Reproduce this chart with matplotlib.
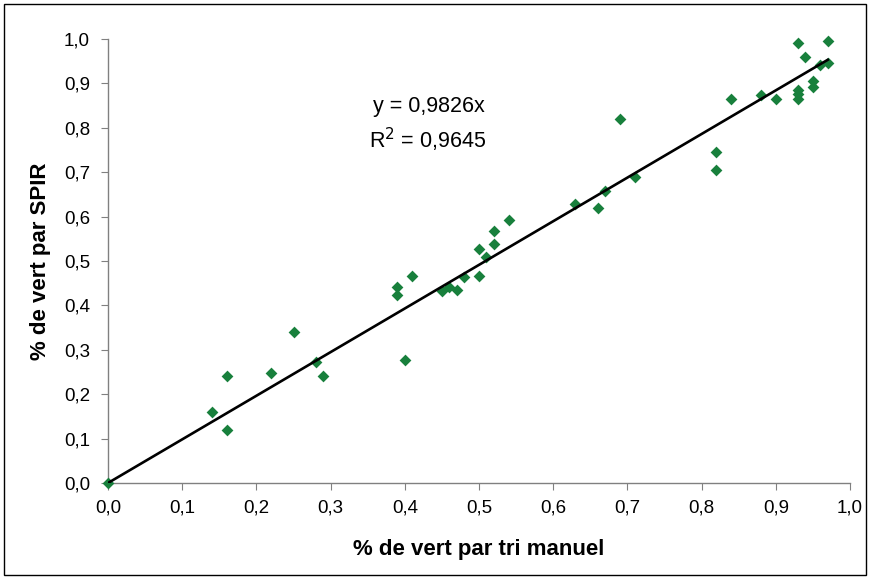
import matplotlib.pyplot as plt
from matplotlib.patches import Rectangle
from matplotlib.ticker import FuncFormatter

plt.rcParams['font.family'] = ['Liberation Sans', 'DejaVu Sans']

# % vert par tri manuel (x) vs % vert par SPIR (y)
manuel = [0.00, 0.14, 0.16, 0.16, 0.22, 0.25, 0.28, 0.29, 0.39, 0.39,
          0.40, 0.41, 0.45, 0.46, 0.47, 0.48, 0.50, 0.50, 0.51, 0.52,
          0.52, 0.54, 0.63, 0.66, 0.67, 0.69, 0.71, 0.82, 0.82, 0.84,
          0.88, 0.90, 0.93, 0.93, 0.93, 0.93, 0.94, 0.95, 0.95, 0.96,
          0.97, 0.97]
spir = [0.000, 0.161, 0.240, 0.119, 0.248, 0.341, 0.273, 0.240, 0.442, 0.424,
        0.276, 0.467, 0.433, 0.441, 0.435, 0.463, 0.467, 0.526, 0.510, 0.538,
        0.568, 0.593, 0.629, 0.619, 0.658, 0.820, 0.689, 0.745, 0.706, 0.864,
        0.875, 0.864, 0.885, 0.876, 0.865, 0.990, 0.959, 0.905, 0.893, 0.942,
        0.947, 0.996]
pente = 0.9826
r2 = 0.9645

fig = plt.figure(figsize=(8.71, 5.79), dpi=100)
fig.patches.append(Rectangle((4 / 871, 4 / 579), 862 / 871, 571 / 579,
                             transform=fig.transFigure, fill=False,
                             edgecolor='black', linewidth=1))
ax = fig.add_axes([108 / 871, 1 - 483 / 579, 742 / 871, 444 / 579])

ax.scatter(manuel, spir, marker='D', s=36, color='#18803c', zorder=3,
           linewidths=0, clip_on=False)
xmax = max(manuel)
ax.plot([0, xmax], [0, pente * xmax], color='black', linewidth=1.9, zorder=4)

ax.set_xlim(0, 1)
ax.set_ylim(0, 1)
ax.set_xticks([i / 10 for i in range(11)])
ax.set_yticks([i / 10 for i in range(11)])
fmt = FuncFormatter(lambda v, p: f"{v:.1f}".replace('.', ','))
ax.xaxis.set_major_formatter(fmt)
ax.yaxis.set_major_formatter(fmt)

for s in ['top', 'right']:
    ax.spines[s].set_visible(False)
for s in ['left', 'bottom']:
    ax.spines[s].set_color('#808080')
    ax.spines[s].set_linewidth(1)
ax.tick_params(direction='out', length=5, color='#808080', labelsize=13.5)
ax.tick_params(axis='x', pad=7)
ax.tick_params(axis='y', pad=8)

ax.set_xlabel('% de vert par tri manuel', fontsize=16, fontweight='bold',
              labelpad=16)
ax.set_ylabel('% de vert par SPIR', fontsize=16, fontweight='bold',
              labelpad=9)

ax.text(0.433, 0.847, f"y = {pente}x".replace('.', ','), ha='center',
        va='center', fontsize=15.5)
ax.text(0.431, 0.773, f"R$^2$ = {r2}".replace('.', ','), ha='center',
        va='center', fontsize=15.5)

fig.savefig('out.png', dpi=100)
